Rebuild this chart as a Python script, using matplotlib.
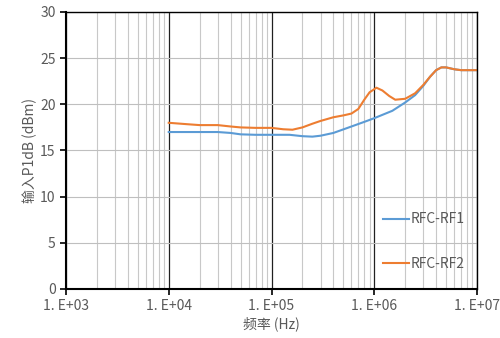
import numpy as np
import matplotlib.pyplot as plt
from matplotlib.ticker import LogLocator, FixedLocator, NullFormatter

plt.rcParams['font.family'] = ['Noto Sans CJK SC', 'DejaVu Sans']

# frequency (Hz) and input P1dB (dBm)
freq_rf1 = [1e4, 2e4, 3e4, 4e4, 5e4, 7e4, 1e5, 1.5e5, 2e5, 2.5e5, 3e5, 4e5,
            6e5, 8e5, 1e6, 1.5e6, 2e6, 2.5e6, 3e6, 3.5e6, 4e6, 4.5e6, 5e6,
            6e6, 7e6, 1e7]
p1db_rf1 = [17.0, 17.0, 17.0, 16.9, 16.75, 16.7, 16.7, 16.7, 16.55, 16.5, 16.6,
            16.9, 17.6, 18.1, 18.5, 19.3, 20.2, 21.0, 22.0, 23.0, 23.7, 24.0,
            24.0, 23.8, 23.7, 23.7]

freq_rf2 = [1e4, 1.5e4, 2e4, 3e4, 4e4, 5e4, 7e4, 1e5, 1.3e5, 1.6e5, 2e5, 2.5e5,
            3e5, 4e5, 5e5, 6e5, 7e5, 8e5, 9e5, 1.05e6, 1.2e6, 1.4e6, 1.6e6,
            2e6, 2.5e6, 3e6, 3.5e6, 4e6, 4.5e6, 5e6, 6e6, 7e6, 1e7]
p1db_rf2 = [18.0, 17.85, 17.75, 17.75, 17.6, 17.5, 17.45, 17.45, 17.3, 17.25,
            17.5, 17.9, 18.2, 18.6, 18.8, 19.0, 19.5, 20.5, 21.3, 21.8, 21.5,
            20.9, 20.5, 20.6, 21.2, 22.1, 23.0, 23.7, 24.0, 24.0, 23.8, 23.7,
            23.7]

series_names = ['RFC-RF1', 'RFC-RF2']
x_ticks = [1e3, 1e4, 1e5, 1e6, 1e7]
x_tick_labels = ['1. E+03', '1. E+04', '1. E+05', '1. E+06', '1. E+07']
y_ticks = [0, 5, 10, 15, 20, 25, 30]

fig = plt.figure(figsize=(5, 3.38), dpi=100)
ax = fig.add_axes([0.132, 0.145, 0.822, 0.8195])

ax.plot(freq_rf1, p1db_rf1, color='#5B9BD5', lw=1.5, label=series_names[0])
ax.plot(freq_rf2, p1db_rf2, color='#ED7D31', lw=1.5, label=series_names[1])

ax.set_xscale('log')
ax.set_xlim(1e3, 1e7)
ax.set_ylim(0, 30)
ax.xaxis.set_major_locator(FixedLocator(x_ticks))
ax.set_xticklabels(x_tick_labels)
ax.xaxis.set_minor_locator(LogLocator(base=10, subs=np.arange(2, 10)))
ax.xaxis.set_minor_formatter(NullFormatter())
ax.set_yticks(y_ticks)

ax.grid(which='minor', axis='x', color='#C8C8C8', lw=0.8)
ax.grid(which='major', axis='x', color='#202020', lw=0.9)
ax.grid(which='major', axis='y', color='#BFBFBF', lw=0.8)
ax.set_axisbelow(True)

for s in ax.spines.values():
    s.set_color('black')
    s.set_linewidth(1.0)
ax.spines['left'].set_linewidth(1.5)
ax.spines['bottom'].set_linewidth(1.5)

ax.tick_params(axis='both', which='major', colors='black', labelcolor='#595959',
               labelsize=10, length=4, width=1.2)
ax.tick_params(axis='x', which='minor', length=0)

ax.set_xlabel('频率 (Hz)', color='#595959', fontsize=10, labelpad=2)
ax.set_ylabel('输入P1dB (dBm)', color='#595959', fontsize=10, labelpad=2)

leg = ax.legend(loc='lower right', bbox_to_anchor=(1.0, 0.02), frameon=False,
                fontsize=10, handlelength=1.9, handletextpad=0.1,
                labelspacing=2.2, labelcolor='#595959')

fig.savefig('out.png', dpi=100)
